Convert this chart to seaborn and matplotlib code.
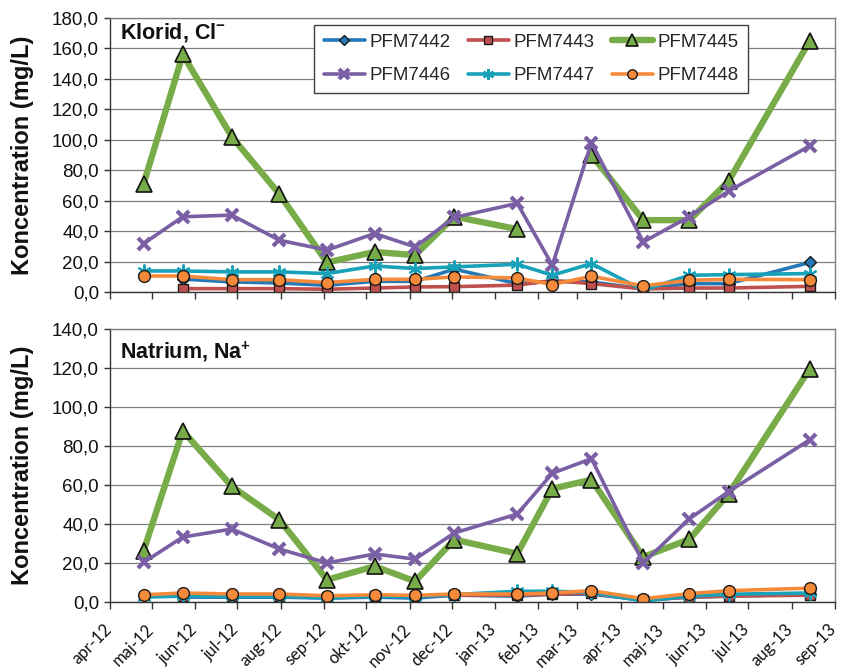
import numpy as np
import pandas as pd
import matplotlib
matplotlib.use('Agg')
import matplotlib.pyplot as plt
import matplotlib.transforms as mtransforms
from matplotlib.ticker import FuncFormatter, MultipleLocator
import seaborn as sns

# Sampling dates (same for both panels)
sample_dates = ['2012-04-25', '2012-05-23', '2012-06-27', '2012-07-31', '2012-09-03',
                '2012-10-07', '2012-11-05', '2012-12-03', '2013-01-17', '2013-02-11',
                '2013-03-11', '2013-04-17', '2013-05-20', '2013-06-17', '2013-08-14']

series_names = ['PFM7442', 'PFM7443', 'PFM7445', 'PFM7446', 'PFM7447', 'PFM7448']

# Klorid, Cl- (mg/L)
klorid_7442 = [np.nan, 8.5, 6.6, 5.9, 4.4, 7.0, 7.0, 15.0, 5.5, 7.0, 6.6, 2.0, 5.5, 5.5, 19.4]
klorid_7443 = [np.nan, 2.2, 2.2, 2.2, 1.8, 2.6, 3.3, 3.5, 4.5, 7.5, 5.5, 2.0, 2.6, 2.6, 3.7]
klorid_7445 = [71.0, 156.0, 102.0, 64.3, 19.4, 26.3, 24.2, 49.5, 41.3, np.nan, 90.0, 47.2, 47.2, 72.9, 165.0]
klorid_7446 = [31.8, 49.4, 50.5, 34.0, 27.5, 38.4, 29.6, 49.0, 58.2, 17.6, 98.0, 32.9, 49.5, 66.3, 96.0]
klorid_7447 = [13.8, 13.8, 13.2, 13.2, 12.1, 17.1, 15.4, 16.5, 18.2, 11.0, 18.7, 1.1, 11.0, 11.4, 12.1]
klorid_7448 = [10.5, 10.5, 8.1, 8.1, 6.2, 8.3, 8.3, 9.9, 9.2, 4.9, 10.3, 4.0, 7.7, 8.3, 8.1]

# Natrium, Na+ (mg/L)
natrium_7442 = [np.nan, 2.5, 2.5, 2.5, 2.0, 2.5, 2.0, 3.5, 3.0, 4.0, 4.0, 1.0, 2.5, 3.0, 4.0]
natrium_7443 = [np.nan, 3.0, 3.0, 3.0, 2.5, 3.0, 3.0, 3.5, 3.5, 4.0, 4.5, 1.0, 2.5, 3.0, 3.5]
natrium_7445 = [26.3, 87.8, 59.3, 42.2, 11.4, 18.3, 10.6, 32.0, 24.8, 58.1, 62.7, 23.1, 32.2, 55.5, 119.6]
natrium_7446 = [20.3, 33.3, 37.4, 27.2, 20.0, 24.6, 22.0, 35.4, 45.1, 66.0, 73.5, 20.0, 42.7, 56.6, 83.2]
natrium_7447 = [2.5, 3.0, 3.0, 3.0, 2.0, 3.0, 2.8, 3.8, 5.5, 5.5, 5.0, 0.5, 3.0, 4.0, 4.6]
natrium_7448 = [3.7, 4.6, 4.1, 4.1, 3.2, 3.7, 3.4, 4.1, 4.1, 4.6, 5.8, 1.7, 4.3, 5.8, 7.1]

month_labels = ['apr-12', 'maj-12', 'jun-12', 'jul-12', 'aug-12', 'sep-12', 'okt-12',
                'nov-12', 'dec-12', 'jan-13', 'feb-13', 'mar-13', 'apr-13', 'maj-13',
                'jun-13', 'jul-13', 'aug-13', 'sep-13']

klorid = dict(zip(series_names, [klorid_7442, klorid_7443, klorid_7445,
                                 klorid_7446, klorid_7447, klorid_7448]))
natrium = dict(zip(series_names, [natrium_7442, natrium_7443, natrium_7445,
                                  natrium_7446, natrium_7447, natrium_7448]))

sns.set_theme(style='white')
plt.rcParams['font.family'] = ['Liberation Sans', 'DejaVu Sans']
plt.rcParams['mathtext.fontset'] = 'custom'
plt.rcParams['mathtext.rm'] = 'Liberation Sans'
plt.rcParams['mathtext.bf'] = 'Liberation Sans:bold'

styles = {
    'PFM7442': dict(color='#2478B5', marker='D', markersize=6, markerfacecolor='#2478B5',
                    markeredgecolor='#1a1a1a', markeredgewidth=1, linewidth=2.6),
    'PFM7443': dict(color='#C0504D', marker='s', markersize=7.5, markerfacecolor='#C0504D',
                    markeredgecolor='#1a1a1a', markeredgewidth=1, linewidth=2.6),
    'PFM7445': dict(color='#78AC48', marker='^', markersize=11, markerfacecolor='#78AC48',
                    markeredgecolor='#111111', markeredgewidth=1.2, linewidth=4.6),
    'PFM7446': dict(color='#7A5FA5', marker='x', markersize=9, markeredgecolor='#7A5FA5',
                    markeredgewidth=3, linewidth=2.6),
    'PFM7447': dict(color='#17A2BA', marker=(6, 2, 0), markersize=10, markeredgecolor='#17A2BA',
                    markeredgewidth=1.5, linewidth=2.6),
    'PFM7448': dict(color='#F58A3B', marker='o', markersize=8.5, markerfacecolor='#F58A3B',
                    markeredgecolor='#1a1a1a', markeredgewidth=1, linewidth=2.6),
}

dates = pd.to_datetime(sample_dates)
month_ticks = pd.date_range('2012-04-01', '2013-09-01', freq='MS')
comma = FuncFormatter(lambda v, p: f'{v:.1f}'.replace('.', ','))

fig = plt.figure(figsize=(8.41, 6.70), dpi=100)
ax1 = fig.add_axes([0.1308, 0.5642, 0.8621, 0.4090])
ax2 = fig.add_axes([0.1308, 0.1015, 0.8621, 0.4075], sharex=ax1)


def draw_panel(ax, values, ymax, title, title_y):
    for name in series_names:
        df = pd.DataFrame({'date': dates, 'value': values[name]})
        # break the line where a sample is missing
        df['seg'] = df['value'].isna().cumsum()
        df = df.dropna()
        sns.lineplot(data=df, x='date', y='value', units='seg', estimator=None,
                     ax=ax, label=name, legend=False, **styles[name])
    ax.set_ylim(0, ymax)
    ax.yaxis.set_major_locator(MultipleLocator(20))
    ax.yaxis.set_major_formatter(comma)
    ax.set_xlim(pd.Timestamp('2012-04-01'), pd.Timestamp('2013-09-01'))
    ax.set_xticks(month_ticks)
    ax.grid(axis='y', color='#7f7f7f', linewidth=0.9)
    ax.grid(axis='x', visible=False)
    ax.set_axisbelow(True)
    ax.set_xlabel('')
    ax.set_ylabel('Koncentration (mg/L)', fontsize=17, fontweight='bold', color='#111111')
    ax.yaxis.set_label_coords(-0.105, 0.5)
    for side in ['top', 'right']:
        ax.spines[side].set_color('#7f7f7f')
        ax.spines[side].set_linewidth(1.0)
    for side in ['left', 'bottom']:
        ax.spines[side].set_color('#333333')
        ax.spines[side].set_linewidth(1.0)
    ax.tick_params(axis='y', direction='out', length=4, width=1, color='#333333',
                   labelsize=13.5, labelcolor='#111111', pad=4, left=True)
    ax.tick_params(axis='x', direction='out', length=5, width=1, color='#333333',
                   bottom=True, pad=13)
    ax.text(0.014, title_y, title, transform=ax.transAxes, fontsize=15.5,
            fontweight='bold', va='top', ha='left', color='#111111')


draw_panel(ax1, klorid, 180, r'Klorid, Cl$^{\mathbf{-}}$', 0.99)
draw_panel(ax2, natrium, 140, r'Natrium, Na$^{\mathbf{+}}$', 0.962)

ax1.tick_params(axis='x', labelbottom=False)
ax2.set_xticklabels(month_labels)
offset = mtransforms.ScaledTranslation(-0.01, 0, fig.dpi_scale_trans)
for lab in ax2.get_xticklabels():
    lab.set_rotation(45)
    lab.set_ha('right')
    lab.set_va('center')
    lab.set_rotation_mode('anchor')
    lab.set_fontfamily(['Lato', 'DejaVu Sans'])
    lab.set_fontsize(12)
    lab.set_color('#111111')
    lab.set_transform(lab.get_transform() + offset)

# legend: row-wise order like the original
handles, labels = ax1.get_legend_handles_labels()
hmap = {}
for h, l in zip(handles, labels):
    hmap.setdefault(l, h)
order = ['PFM7442', 'PFM7446', 'PFM7443', 'PFM7447', 'PFM7445', 'PFM7448']
leg = ax1.legend([hmap[n] for n in order], order, ncol=3, loc='upper right',
                 bbox_to_anchor=(0.88, 0.976), fontsize=13.5, frameon=True,
                 fancybox=False, edgecolor='#404040', framealpha=1,
                 handlelength=2.2, handletextpad=0.25, columnspacing=0.9,
                 labelspacing=0.85, borderpad=0.5, borderaxespad=0, markerscale=0.8)
leg.get_frame().set_linewidth(1.0)

fig.savefig('out.png', dpi=100)
